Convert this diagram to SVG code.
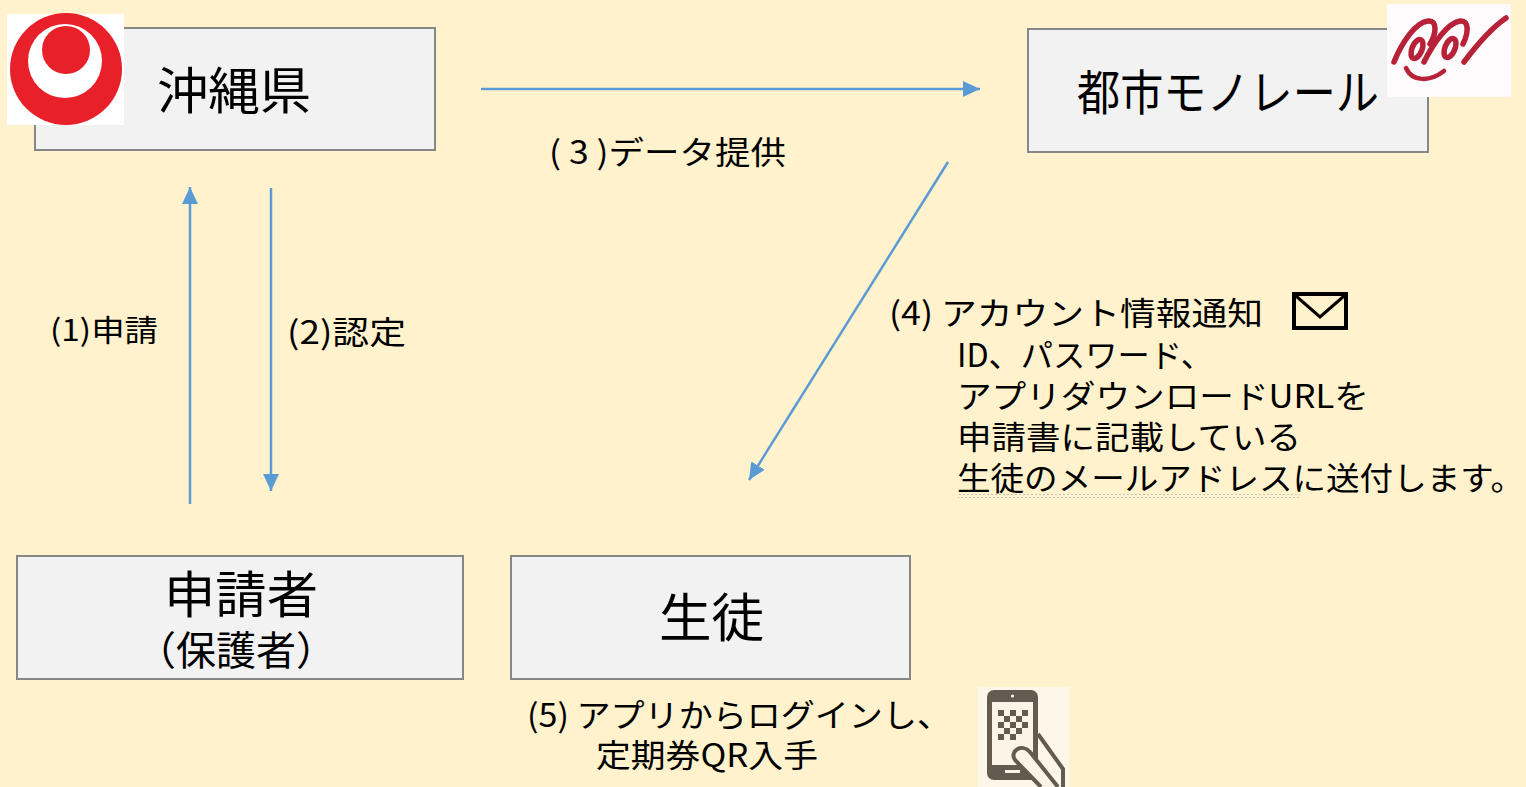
<svg xmlns="http://www.w3.org/2000/svg" width="1526" height="787" viewBox="0 0 1526 787">
<defs>
<style>
.box{fill:#F2F2F2;stroke:#878787;stroke-width:2}
.t{font-family:"Noto Sans CJK JP","Noto Sans",sans-serif;fill:#000}
.conn{stroke:#5B9BD5;stroke-width:2.5;fill:none}
</style>
<marker id="ah" viewBox="0 0 17 16" refX="17" refY="8" markerWidth="17" markerHeight="16" markerUnits="userSpaceOnUse" orient="auto">
<path d="M0,0 L17,8 L0,16 z" fill="#5B9BD5"/>
</marker>
<pattern id="sq" x="0" y="0" width="4" height="4" patternUnits="userSpaceOnUse">
<polyline points="0,3 2,1 4,3" fill="none" stroke="#B8B8B8" stroke-width="0.8"/>
</pattern>
</defs>
<rect width="1526" height="787" fill="#FFF2CC"/>

<g id="connectors">
<line class="conn" x1="481" y1="89" x2="980" y2="89" marker-end="url(#ah)"/>
<line class="conn" x1="190" y1="504" x2="190" y2="187" marker-end="url(#ah)"/>
<line class="conn" x1="271" y1="188" x2="271" y2="491" marker-end="url(#ah)"/>
<line class="conn" x1="948" y1="162" x2="749" y2="480" marker-end="url(#ah)"/>
</g>

<g id="okinawa">
<rect class="box" x="35" y="28" width="400" height="122"/>
<text class="t" x="157" y="109" font-size="50" textLength="154" lengthAdjust="spacingAndGlyphs">沖縄県</text>
<g id="okinawa-logo">
<rect x="7" y="14" width="117" height="111" fill="#FFFFFF"/>
<circle cx="66" cy="69" r="56" fill="#E8202A"/>
<circle cx="65" cy="61" r="37" fill="#FFFFFF"/>
<circle cx="66" cy="50" r="24" fill="#E8202A"/>
</g>
</g>

<g id="monorail">
<rect class="box" x="1028" y="29" width="400" height="123"/>
<text class="t" x="1077" y="110" font-size="48" textLength="302" lengthAdjust="spacingAndGlyphs">都市モノレール</text>
<g id="monorail-logo" transform="translate(1380,0)">
<rect x="7" y="4" width="124" height="93" fill="#FFFAFB"/>
<g fill="none" stroke="#B72239" stroke-width="5.5" stroke-linecap="round">
<path d="M14,62 C22,42 36,22 48,21 C58,20 56,34 50,44"/>
<ellipse cx="37" cy="49" rx="5" ry="10" transform="rotate(22 37 49)"/>
<path d="M44,62 C54,42 68,23 80,21 C90,20 88,34 83,44"/>
<ellipse cx="70" cy="48" rx="5" ry="10" transform="rotate(22 70 48)"/>
<path d="M84,62 C96,46 110,29 126,18"/>
<path d="M26,68 C32,82 50,82 64,71" stroke-width="4.5"/>
</g>
</g>
</g>

<g id="applicant">
<rect class="box" x="17" y="556" width="446" height="123"/>
<text class="t" x="164" y="613" font-size="50" textLength="154" lengthAdjust="spacingAndGlyphs">申請者</text>
<text class="t" x="136" y="665" font-size="40">（保護者）</text>
</g>

<g id="student">
<rect class="box" x="511" y="556" width="399" height="123"/>
<text class="t" x="659" y="637" font-size="52" textLength="105" lengthAdjust="spacingAndGlyphs">生徒</text>
</g>

<g id="labels">
<text class="t" x="50" y="341" font-size="30" textLength="108" lengthAdjust="spacingAndGlyphs">(1)申請</text>
<text class="t" x="287" y="344" font-size="32" textLength="119" lengthAdjust="spacingAndGlyphs">(2)認定</text>
<text class="t" x="549" y="164" font-size="32" textLength="237" lengthAdjust="spacingAndGlyphs">( 3 )データ提供</text>
<text class="t" font-size="32">
<tspan x="889" y="325" textLength="374" lengthAdjust="spacingAndGlyphs">(4) アカウント情報通知</tspan>
<tspan x="957" y="367" textLength="256" lengthAdjust="spacingAndGlyphs">ID、パスワード、</tspan>
<tspan x="957" y="408" textLength="412" lengthAdjust="spacingAndGlyphs">アプリダウンロードURLを</tspan>
<tspan x="957" y="449" textLength="344" lengthAdjust="spacingAndGlyphs">申請書に記載している</tspan>
<tspan x="957" y="490" textLength="567" lengthAdjust="spacingAndGlyphs">生徒のメールアドレスに送付します。</tspan>
</text>
<rect x="958" y="494" width="342" height="4" fill="url(#sq)"/>
<text class="t" font-size="32">
<tspan x="527" y="727" textLength="424" lengthAdjust="spacingAndGlyphs">(5) アプリからログインし、</tspan>
<tspan x="596" y="767" textLength="222" lengthAdjust="spacingAndGlyphs">定期券QR入手</tspan>
</text>
</g>

<g id="mail-icon" fill="none" stroke="#000" stroke-width="4">
<rect x="1294" y="294" width="52" height="34"/>
<polyline points="1296,296 1320,317 1344,296" stroke-width="3"/>
</g>

<g id="phone-icon">
<rect x="978" y="687" width="91" height="100" fill="#FDF7EA"/>
<rect x="987" y="690" width="51" height="90" rx="7" fill="#615B50"/>
<rect x="992" y="702" width="41" height="63" fill="#FBF5E8"/>
<circle cx="1012.5" cy="696" r="1.6" fill="#FBF5E8"/>
<rect x="1005" y="770" width="15" height="3" fill="#FBF5E8"/>
<g fill="#615B50">
<rect x="998" y="710" width="6" height="6"/><rect x="1010" y="710" width="6" height="6"/><rect x="1016" y="716" width="6" height="6"/>
<rect x="1004" y="716" width="6" height="6"/><rect x="998" y="722" width="6" height="6"/><rect x="1010" y="722" width="6" height="6"/>
<rect x="1022" y="722" width="6" height="6"/><rect x="1004" y="728" width="6" height="6"/><rect x="1016" y="728" width="6" height="6"/>
<rect x="998" y="734" width="6" height="6"/><rect x="1010" y="734" width="6" height="6"/><rect x="1022" y="710" width="6" height="6"/>
</g>
<path d="M1038,734 L1063,769 L1063,787" fill="none" stroke="#615B50" stroke-width="4"/>
<path d="M1041,787 L1015,760 C1009,751 1022,743 1030,752 L1058,787" fill="#FBF5E8" stroke="#615B50" stroke-width="4"/>
</g>
</svg>
